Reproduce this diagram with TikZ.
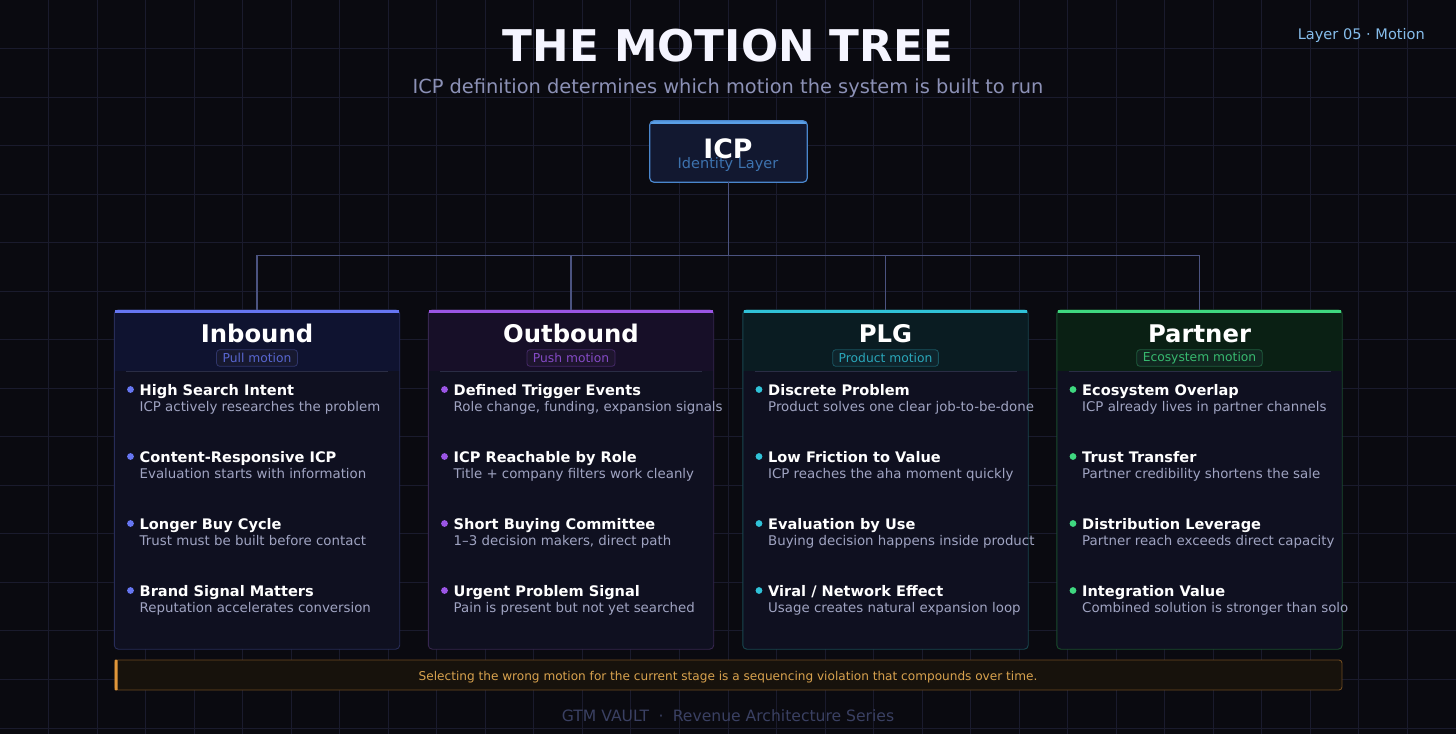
\documentclass[tikz,border=0pt]{standalone}
\usepackage{fontspec}
\setmainfont{DejaVu Sans}
\definecolor{bg}{HTML}{0A0A10}
\definecolor{gridc}{HTML}{1A1B2D}
\definecolor{cardbg}{HTML}{0F1020}
\definecolor{desc}{HTML}{A0A4C2}
\definecolor{subt}{HTML}{8C91B6}
\definecolor{conn}{HTML}{4B5380}
\definecolor{sepc}{HTML}{2A2D45}
\definecolor{layerc}{HTML}{86BDEB}
\definecolor{icpA}{HTML}{5A9FE6}
\definecolor{icpB}{HTML}{4A86CC}
\definecolor{icpF}{HTML}{121830}
\definecolor{icpS}{HTML}{3D72AE}
\definecolor{inbA}{HTML}{6676F2}
\definecolor{inbH}{HTML}{0F1330}
\definecolor{inbB}{HTML}{272C58}
\definecolor{outA}{HTML}{9B55E6}
\definecolor{outH}{HTML}{170F28}
\definecolor{outB}{HTML}{36264F}
\definecolor{plgA}{HTML}{30C2D8}
\definecolor{plgH}{HTML}{0A1C22}
\definecolor{plgB}{HTML}{184650}
\definecolor{parA}{HTML}{3FD880}
\definecolor{parH}{HTML}{0A2014}
\definecolor{parB}{HTML}{1A4C2E}
\definecolor{banF}{HTML}{17120C}
\definecolor{banB}{HTML}{6E4A20}
\definecolor{banA}{HTML}{E0963A}
\definecolor{banT}{HTML}{D8A24E}
\definecolor{footc}{HTML}{3A4062}
\newcommand\pxs[1]{\fontsize{#1}{#1}\selectfont}
\tikzset{
  cardbox/.style={rectangle, rounded corners=4, minimum width=285, minimum height=339, inner sep=0},
  cardtitle/.style={anchor=base, inner sep=0, text=white, font=\bfseries\pxs{24.3}},
  badgebox/.style={rectangle, rounded corners=3, inner xsep=6, inner ysep=0, minimum height=16.5, line width=0.8, font=\pxs{12.3}},
  ititle/.style={anchor=base west, inner sep=0, text=white, font=\bfseries\pxs{14.56}},
  idesc/.style={anchor=base west, inner sep=0, text=desc, font=\pxs{13.35}},
  connline/.style={draw=conn, line width=1.4},
}
% #1 name, #2 x centre, #3 accent, #4 header fill, #5 border, #6 title, #7 badge
\newcommand\mcard[7]{%
  \node[cardbox, fill=cardbg] (#1) at (#2,479.5) {};
  \begin{scope}
    \clip[rounded corners=4] (#1.north west) rectangle (#1.south east);
    \fill[#4] (#1.north west) rectangle ([yshift=-61pt]#1.north east);
    \fill[#3] (#1.north west) rectangle ([yshift=-3pt]#1.north east);
  \end{scope}
  \draw[#5, line width=0.9, rounded corners=4] (#1.north west) rectangle (#1.south east);
  \node[cardtitle] (#1-t) at (#2,342) {#6};
  \node[badgebox, draw=#3!40!bg, fill=#3!14!bg, text=#3!85!bg] (#1-b) at (#2,358) {#7};
  \draw[sepc, line width=0.9] (#2-131,371) -- (#2+131,371);
}
% #1 name, #2 card left x, #3 baseline y, #4 accent, #5 title, #6 desc
\newcommand\mitem[6]{%
  \fill[#4] (#2+16,#3-5.5) circle (3.4);
  \node[ititle] (#1-a) at (#2+25,#3) {#5};
  \node[idesc] (#1-d) at (#2+25,#3+16) {#6};
}
\begin{document}
\begin{tikzpicture}[x=1pt,y=-1pt]
\useasboundingbox (0,0) rectangle (1456,734);
\fill[bg] (0,0) rectangle (1456,734);
\foreach \i in {1,...,30} \draw[gridc, line width=1] (\i*48.533,0) -- (\i*48.533,734);
\foreach \j in {1,...,15} \draw[gridc, line width=1] (0,\j*48.533) -- (1456,\j*48.533);

% titles
\node[anchor=base, inner sep=0, text=white!96!blue, font=\bfseries\pxs{43.7}] (title) at (728,61) {THE MOTION TREE};
\node[anchor=base, inner sep=0, text=subt, font=\pxs{19.4}] (subtitle) at (728,93) {ICP definition determines which motion the system is built to run};
\node[anchor=base east, inner sep=0, text=layerc, font=\pxs{14.56}] (layer) at (1425,39.5) {Layer 05 · Motion};

% ICP
\node[rectangle, rounded corners=4, minimum width=157, minimum height=61, inner sep=0, fill=icpF] (icp) at (728.5,151.5) {};
\begin{scope}
  \clip[rounded corners=4] (icp.north west) rectangle (icp.south east);
  \fill[icpA] (icp.north west) rectangle ([yshift=-3pt]icp.north east);
\end{scope}
\draw[icpB, line width=1.2, rounded corners=4] (icp.north west) rectangle (icp.south east);
\node[anchor=base, inner sep=0, text=white, font=\bfseries\pxs{26.7}] (icp-t) at (728,158) {ICP};
\node[anchor=base, inner sep=0, text=icpS, font=\pxs{14.5}] (icp-s) at (728,168) {Identity Layer};

% cards
\mcard{inb}{257}{inbA}{inbH}{inbB}{Inbound}{Pull motion}
\mcard{out}{571}{outA}{outH}{outB}{Outbound}{Push motion}
\mcard{plg}{885.5}{plgA}{plgH}{plgB}{PLG}{Product motion}
\mcard{par}{1199.5}{parA}{parH}{parB}{Partner}{Ecosystem motion}

% connectors
\draw[connline] (icp.south) -- ++(0,73) -| (inb.north);
\draw[connline] (icp.south) -- ++(0,73) -| (out.north);
\draw[connline] (icp.south) -- ++(0,73) -| (plg.north);
\draw[connline] (icp.south) -- ++(0,73) -| (par.north);
\fill[inbA] ([xshift=1pt]inb.north west) rectangle ([yshift=-3pt,xshift=-1pt]inb.north east);
\fill[outA] ([xshift=1pt]out.north west) rectangle ([yshift=-3pt,xshift=-1pt]out.north east);
\fill[plgA] ([xshift=1pt]plg.north west) rectangle ([yshift=-3pt,xshift=-1pt]plg.north east);
\fill[parA] ([xshift=1pt]par.north west) rectangle ([yshift=-3pt,xshift=-1pt]par.north east);

% items: Inbound
\mitem{inb1}{114.5}{395}{inbA}{High Search Intent}{ICP actively researches the problem}
\mitem{inb2}{114.5}{462}{inbA}{Content-Responsive ICP}{Evaluation starts with information}
\mitem{inb3}{114.5}{529}{inbA}{Longer Buy Cycle}{Trust must be built before contact}
\mitem{inb4}{114.5}{596}{inbA}{Brand Signal Matters}{Reputation accelerates conversion}
% Outbound
\mitem{out1}{428.5}{395}{outA}{Defined Trigger Events}{Role change, funding, expansion signals}
\mitem{out2}{428.5}{462}{outA}{ICP Reachable by Role}{Title + company filters work cleanly}
\mitem{out3}{428.5}{529}{outA}{Short Buying Committee}{1–3 decision makers, direct path}
\mitem{out4}{428.5}{596}{outA}{Urgent Problem Signal}{Pain is present but not yet searched}
% PLG
\mitem{plg1}{743}{395}{plgA}{Discrete Problem}{Product solves one clear job-to-be-done}
\mitem{plg2}{743}{462}{plgA}{Low Friction to Value}{ICP reaches the aha moment quickly}
\mitem{plg3}{743}{529}{plgA}{Evaluation by Use}{Buying decision happens inside product}
\mitem{plg4}{743}{596}{plgA}{Viral / Network Effect}{Usage creates natural expansion loop}
% Partner
\mitem{par1}{1057}{395}{parA}{Ecosystem Overlap}{ICP already lives in partner channels}
\mitem{par2}{1057}{462}{parA}{Trust Transfer}{Partner credibility shortens the sale}
\mitem{par3}{1057}{529}{parA}{Distribution Leverage}{Partner reach exceeds direct capacity}
\mitem{par4}{1057}{596}{parA}{Integration Value}{Combined solution is stronger than solo}

% banner
\node[rectangle, rounded corners=3, minimum width=1227, minimum height=30, inner sep=0, fill=banF, draw=banB, line width=0.9] (ban) at (728.5,675) {};
\fill[banA, rounded corners=1] (ban.north west) rectangle ([xshift=3pt]ban.south west);
\node[anchor=base, inner sep=0, text=banT, font=\pxs{12.1}] (ban-t) at (728,680) {Selecting the wrong motion for the current stage is a sequencing violation that compounds over time.};

% footer
\node[anchor=base, inner sep=0, text=footc, font=\pxs{15.6}] (foot) at (728,721) {GTM VAULT\hspace{0.6em}·\hspace{0.6em}Revenue Architecture Series};
\end{tikzpicture}
\end{document}
